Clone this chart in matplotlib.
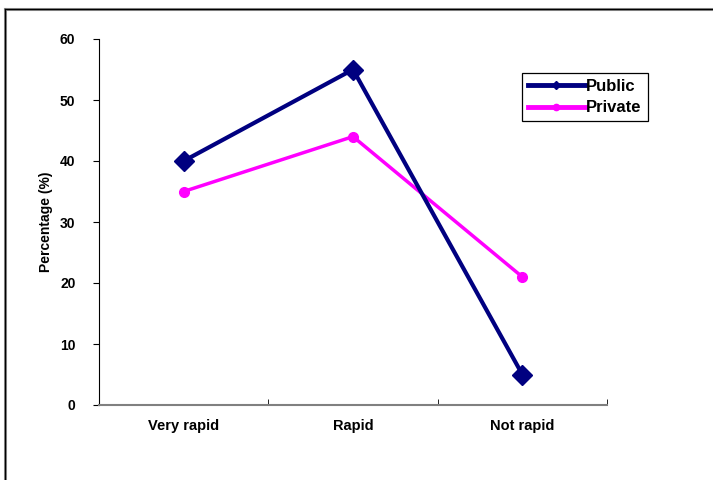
import matplotlib.pyplot as plt
from matplotlib.lines import Line2D

categories = ['Very rapid', 'Rapid', 'Not rapid']
public = [40, 55, 5]
private = [35, 44, 21]
yticks = [0, 10, 20, 30, 40, 50, 60]

plt.rcParams['font.family'] = ['Liberation Sans', 'DejaVu Sans']
plt.rcParams['font.weight'] = 'bold'

fig = plt.figure(figsize=(7.13, 4.8), dpi=100)
fig.set_facecolor('white')

# outer frame around the chart area (runs off the right and bottom edges)
W, H = 713, 480
fig.add_artist(Line2D([4.5 / W, 4.5 / W], [0, 1 - 8.5 / H], color='#909090', lw=2.2, transform=fig.transFigure))
fig.add_artist(Line2D([4.5 / W, 1], [1 - 8.5 / H, 1 - 8.5 / H], color='#909090', lw=2.2, transform=fig.transFigure))
fig.add_artist(Line2D([4.5 / W, 4.5 / W], [0, 1 - 8.5 / H], color='black', lw=0.9, transform=fig.transFigure))
fig.add_artist(Line2D([4.5 / W, 1], [1 - 8.5 / H, 1 - 8.5 / H], color='black', lw=0.9, transform=fig.transFigure))

ax = fig.add_axes([99 / W, 1 - 405 / H, (607 - 99) / W, (405 - 39) / H])
x = range(len(categories))

ax.plot(x, public, color='#000080', lw=3, marker='D', markersize=10, label='Public', zorder=3)
ax.plot(x, private, color='#FF00FF', lw=2.5, marker='o', markersize=7, label='Private', zorder=2)

ax.set_xlim(-0.5, 2.5)
ax.set_ylim(0, 60)
ax.set_yticks(yticks)
ax.set_yticklabels([str(v) for v in yticks], fontsize=10, fontweight='bold')
ax.set_xticks(x)
ax.set_xticklabels(categories, fontsize=10.5, fontweight='bold')
ax.set_xticks([0.5, 1.5, 2.5], minor=True)
ax.tick_params(axis='x', which='major', length=0, pad=10)
ax.tick_params(axis='x', which='minor', length=4, direction='in', color='black')
ax.tick_params(axis='y', length=4, direction='out', pad=13)

ax.spines['top'].set_visible(False)
ax.spines['right'].set_visible(False)
ax.spines['left'].set_color('black')
ax.spines['bottom'].set_color('#808080')
ax.spines['bottom'].set_linewidth(1.5)

ax.set_ylabel('Percentage (%)', fontsize=10, fontweight='bold', labelpad=5)

leg_handles = [
    Line2D([], [], color='#000080', lw=3.5, marker='D', markersize=4.5),
    Line2D([], [], color='#FF00FF', lw=3.5, marker='o', markersize=4.5),
]
leg = ax.legend(leg_handles, ['Public', 'Private'], loc='upper left',
                bbox_to_anchor=((522 - 99) / (607 - 99), 1 - (73 - 39) / (405 - 39)),
                fancybox=False, frameon=True, edgecolor='black', framealpha=1,
                prop={'weight': 'bold', 'size': 12}, handlelength=3.4, handletextpad=0.1,
                borderpad=0.35, labelspacing=0.4, borderaxespad=0)
leg.get_frame().set_linewidth(0.9)

fig.savefig('out.png', dpi=100)
